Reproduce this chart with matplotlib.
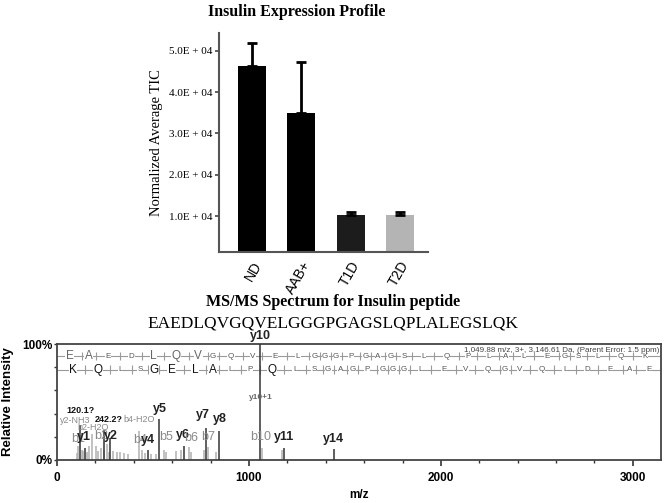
import numpy as np
import matplotlib
matplotlib.use("Agg")
import matplotlib.pyplot as plt
from matplotlib.ticker import MultipleLocator, FixedLocator

# ---- bar chart data ----
groups = ["ND", "AAB+", "T1D", "T2D"]
tic_mean = [46300, 34900, 10200, 10200]
tic_err = [5500, 12300, 700, 800]
bar_colors = ["#000000", "#000000", "#1c1c1c", "#b4b4b4"]

# ---- spectrum data ----
sequence = "EAEDLQVGQVELGGGPGAGSLQPLALEGSLQK"
residue_mass = {"G": 57.021, "A": 71.037, "S": 87.032, "P": 97.053, "V": 99.068,
                "L": 113.084, "D": 115.027, "Q": 128.059, "K": 128.095, "E": 129.043}
b_big = [1, 1, 0, 0, 1, 1, 1] + [0] * 25
y_big = [1, 1, 0, 0, 1, 1, 1, 1, 0, 0, 1] + [0] * 21

y_ion_mz = [120.1, 147.1, 242.2, 275.2, 475.3, 532.3, 661.4, 774.4, 845.5, 1055.6, 1183.7, 1440.8]
y_ion_int = [30, 10, 26, 19, 9, 35, 12, 28, 25, 100, 10, 9.5]

other_mz = [102, 111, 130, 138, 158, 166, 183, 201, 213, 229, 245, 258, 270, 290, 310,
            330, 350, 370, 427, 445, 458, 490, 515, 558, 570, 620, 644, 686, 700, 768,
            785, 828, 1069, 1172]
other_int = [6, 12, 9, 8, 7, 12, 22, 12, 8, 10, 9, 14, 7, 8, 7,
             7, 6, 5, 25, 9, 6, 5, 5, 9, 7, 8, 9, 11, 7, 9,
             11, 7, 10, 9]

# label text, m/z, intensity %, color, size, weight
peak_labels = [
    ("120.1?", 125, 39, "#111111", 6.5, "bold"),
    ("y2-NH3", 94, 30, "#8a8a8a", 6.5, "normal"),
    ("242.2?", 271, 31, "#111111", 6.5, "bold"),
    ("b2-H2O", 188, 24, "#8a8a8a", 6.5, "normal"),
    ("b4-H2O", 427, 31, "#8a8a8a", 6.5, "normal"),
    ("y5", 537, 39, "#222222", 9, "bold"),
    ("y7", 761, 34, "#222222", 9, "bold"),
    ("y8", 849, 30, "#222222", 9, "bold"),
    ("b1", 109, 13, "#8a8a8a", 9, "normal"),
    ("y1", 141, 15, "#222222", 9, "bold"),
    ("b2", 229, 15.5, "#8a8a8a", 9, "normal"),
    ("y2", 281, 15.5, "#222222", 9, "bold"),
    ("b4", 432, 12, "#8a8a8a", 9, "normal"),
    ("y4", 474, 12, "#222222", 9, "bold"),
    ("b5", 568, 15, "#8a8a8a", 9, "normal"),
    ("y6", 657, 16, "#222222", 9, "bold"),
    ("b6", 698, 14, "#8a8a8a", 9, "normal"),
    ("b7", 787, 15, "#8a8a8a", 9, "normal"),
    ("b10", 1063, 15, "#8a8a8a", 9, "normal"),
    ("y11", 1183, 15, "#222222", 9, "bold"),
    ("y14", 1438, 13, "#222222", 9, "bold"),
    ("y10+1", 1063, 51, "#666666", 6, "bold"),
]

parent_mass = 3146.61

fig = plt.figure(figsize=(6.66, 5.03), dpi=100)
serif = ["Liberation Serif", "DejaVu Serif"]
sans = ["Liberation Sans", "DejaVu Sans"]

# ================= bar chart =================
ax = fig.add_axes([0.3288, 0.499, 0.3138, 0.4354])
x = np.arange(len(groups))
ax.bar(x, tic_mean, width=0.57, color=bar_colors, zorder=2)
ax.errorbar(x, tic_mean, yerr=[np.zeros(len(groups)), tic_err], fmt="none",
            ecolor="black", elinewidth=2, capsize=3.5, capthick=2, zorder=3)
ax.set_xlim(-0.67, 3.57)
ax.set_ylim(1300, 54300)
ax.set_yticks([10000, 20000, 30000, 40000, 50000])
ax.set_yticklabels(["1.0E + 04", "2.0E + 04", "3.0E + 04", "4.0E + 04", "5.0E + 04"],
                   family=serif, fontsize=8)
ax.set_xticks(x)
ax.set_xticklabels(groups, rotation=60, ha="right", rotation_mode="anchor",
                   family=sans, fontsize=10)
ax.tick_params(axis="x", length=0, pad=5)
ax.tick_params(axis="y", length=3, width=1.2, color="#444444", pad=2)
for s in ["top", "right"]:
    ax.spines[s].set_visible(False)
for s in ["left", "bottom"]:
    ax.spines[s].set_color("#555555")
    ax.spines[s].set_linewidth(1.5)
ax.set_ylabel("Normalized Average TIC", family=serif, fontsize=10.5, labelpad=4)
fig.text(0.446, 0.976, "Insulin Expression Profile", family=serif, fontsize=11.5,
         fontweight="bold", ha="center", va="center")

# ================= spectrum =================
fig.text(0.5, 0.400, "MS/MS Spectrum for Insulin peptide", family=serif, fontsize=11.5,
         fontweight="bold", ha="center", va="center")
fig.text(0.5, 0.356, sequence, family=serif, fontsize=12.5, ha="center", va="center")

ax2 = fig.add_axes([0.0856, 0.0855, 0.9069, 0.2306])
ax2.set_xlim(0, parent_mass)
ax2.set_ylim(0, 100)

ax2.vlines(other_mz, 0, other_int, color="#b0b0b0", linewidth=1.1, zorder=2)
ax2.vlines(y_ion_mz, 0, y_ion_int, color="#333333", linewidth=1.1, zorder=3)
ax2.text(1058, 102, "y10", fontsize=9, fontweight="bold", family=sans,
         ha="center", va="bottom", color="#222222", clip_on=False)
for txt, mz, yy, col, fs, fw in peak_labels:
    ax2.text(mz, yy, txt, color=col, fontsize=fs, fontweight=fw, family=sans,
             ha="center", va="bottom", zorder=4)

# sequence ladders
def ladder(res, start, ypos, big, col):
    masses = np.array([residue_mass[r] for r in res])
    bounds = start + np.concatenate([[0], np.cumsum(masses)])
    ax2.hlines(ypos, 0, parent_mass, color="#9a9a9a", linewidth=0.8, zorder=2)
    ax2.vlines(bounds[1:-1], ypos - 3.5, ypos + 3.5, color="#9a9a9a", linewidth=0.8, zorder=2)
    mids = (bounds[:-1] + bounds[1:]) / 2
    for r, m, b in zip(res, mids, big):
        ax2.text(m, ypos, r, ha="center", va="center", family=sans,
                 fontsize=8.5 if b else 5.8, color=col if b else "#555555",
                 bbox=dict(facecolor="white", edgecolor="none", pad=0.3), zorder=5)

ladder(sequence, 1.007, 89.5, b_big, "#666666")
ladder(sequence[::-1], 19.018, 78, y_big, "#111111")
ax2.text(0.997, 0.94, "1,049.88 m/z, 3+, 3,146.61 Da, (Parent Error: 1.5 ppm)",
         transform=ax2.transAxes, ha="right", va="center", fontsize=5.8,
         family=sans, color="#444444", zorder=6)

ax2.xaxis.set_major_locator(FixedLocator([0, 1000, 2000, 3000]))
ax2.xaxis.set_minor_locator(MultipleLocator(200))
ax2.set_xticklabels(["0", "1000", "2000", "3000"], fontsize=8.5, fontweight="bold", family=sans)
ax2.set_yticks([0, 20, 40, 60, 80, 100])
ax2.set_yticklabels(["0%", "", "", "", "", "100%"], fontsize=8.5, fontweight="bold", family=sans)
ax2.tick_params(axis="x", which="major", length=4, width=1.2, color="#333333", pad=5)
ax2.tick_params(axis="x", which="minor", length=2, width=1, color="#333333")
ax2.tick_params(axis="y", length=2.5, width=1, color="#333333", pad=1)
for s in ax2.spines.values():
    s.set_color("#444444")
    s.set_linewidth(1.3)
ax2.set_xlabel("m/z", fontsize=8.5, fontweight="bold", family=sans, labelpad=3)
ax2.set_ylabel("Relative Intensity", fontsize=9.5, fontweight="bold", family=sans)
ax2.yaxis.set_label_coords(-0.071, 0.5)

fig.savefig("out.png", dpi=100)
